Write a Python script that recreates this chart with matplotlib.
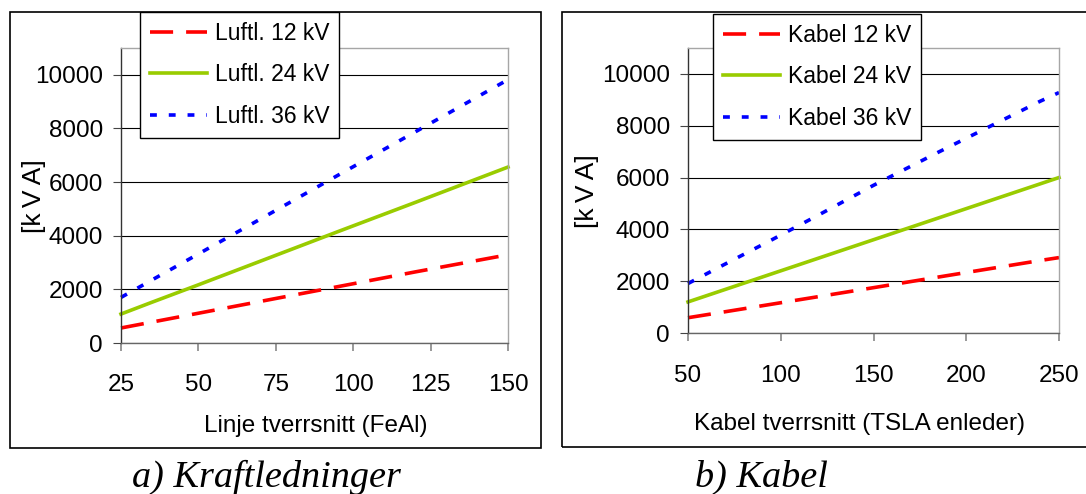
import matplotlib
matplotlib.use("Agg")
import matplotlib.pyplot as plt
from matplotlib.patches import Rectangle

plt.rcParams['font.family'] = ['Liberation Sans', 'DejaVu Sans']

W, H = 1086, 494

# a) overhead lines
line_x = [25, 35, 50, 70, 95, 120, 150]
luftl_12 = [560, 780, 1110, 1550, 2100, 2650, 3290]
luftl_24 = [1080, 1520, 2170, 3050, 4150, 5240, 6560]
luftl_36 = [1700, 2350, 3320, 4620, 6250, 7870, 9820]
line_ticks = [25, 50, 75, 100, 125, 150]

# b) cables
cable_x = [50, 70, 95, 120, 150, 185, 240, 250]
kabel_12 = [590, 820, 1110, 1400, 1750, 2160, 2800, 2910]
kabel_24 = [1200, 1680, 2280, 2880, 3600, 4440, 5760, 6000]
kabel_36 = [1910, 2660, 3590, 4540, 5700, 6980, 8950, 9280]
cable_ticks = [50, 100, 150, 200, 250]

y_ticks = [0, 2000, 4000, 6000, 8000, 10000]

RED, GREEN, BLUE = '#FF0000', '#99CC00', '#0000FF'
FS = 17.5


def px_axes(fig, x0, y0, x1, y1):
    return fig.add_axes([x0 / W, 1 - y1 / H, (x1 - x0) / W, (y1 - y0) / H])


def draw_panel(fig, box, x, series, labels, xticks, leg_xy, xpad):
    ax = px_axes(fig, *box)
    l1, = ax.plot(x, series[0], color=RED, lw=2.6, ls=(0, (6.4, 3.6)))
    l2, = ax.plot(x, series[1], color=GREEN, lw=2.6)
    l3, = ax.plot(x, series[2], color=BLUE, lw=2.6, ls=(0, (1.9, 3.3)))
    for l in (l1, l2, l3):
        l.set_clip_on(False)
    ax.set_xlim(xticks[0], xticks[-1])
    ax.set_ylim(0, 11000)
    ax.set_xticks(xticks)
    ax.set_yticks(y_ticks)
    ax.yaxis.grid(True, color='black', lw=0.8)
    ax.set_axisbelow(True)
    ax.tick_params(axis='y', direction='out', length=6, width=0.8,
                   color='#444444', pad=7, labelsize=FS)
    ax.tick_params(axis='x', direction='out', length=6, width=1.2,
                   color='#888888', pad=xpad, labelsize=FS)
    for s in ('top', 'right'):
        ax.spines[s].set_color('#a6a6a6')
        ax.spines[s].set_linewidth(1.0)
    ax.spines['left'].set_color('#333333')
    ax.spines['bottom'].set_color('#666666')
    ax.spines['left'].set_linewidth(1.0)
    ax.spines['bottom'].set_linewidth(1.0)
    leg = ax.legend([l1, l2, l3], labels, loc='upper left',
                    bbox_to_anchor=(leg_xy[0] / W, 1 - leg_xy[1] / H),
                    bbox_transform=fig.transFigure, borderaxespad=0,
                    fontsize=16.5, frameon=True, fancybox=False, framealpha=1,
                    edgecolor='black', handlelength=2.5, handletextpad=0.35,
                    labelspacing=0.82, borderpad=0.42)
    leg.get_frame().set_linewidth(1.0)
    return ax


fig = plt.figure(figsize=(W / 100, H / 100), dpi=100)

# outer frames round each chart
fig.add_artist(Rectangle((10 / W, 1 - 448 / H), 531 / W, 436 / H,
                         transform=fig.transFigure, fill=False,
                         ec='black', lw=1.2))
fig.add_artist(Rectangle((562 / W, 1 - 447 / H), 540 / W, 435 / H,
                         transform=fig.transFigure, fill=False,
                         ec='black', lw=1.2, clip_on=False))

draw_panel(fig, (121, 48, 508, 343), line_x, [luftl_12, luftl_24, luftl_36],
           ['Luftl. 12 kV', 'Luftl. 24 kV', 'Luftl. 36 kV'], line_ticks,
           (140, 12), 16)
draw_panel(fig, (688, 48, 1059, 333), cable_x, [kabel_12, kabel_24, kabel_36],
           ['Kabel 12 kV', 'Kabel 24 kV', 'Kabel 36 kV'], cable_ticks,
           (713, 14), 17)

# axis titles
fig.text(316 / W, 1 - 426 / H, 'Linje tverrsnitt (FeAl)', fontsize=17.5,
         ha='center', va='center')
fig.text(860 / W, 1 - 424 / H, 'Kabel tverrsnitt (TSLA enleder)',
         fontsize=17.5, ha='center', va='center')
ylab = '[k\u2009V\u2009A]'
fig.text(34 / W, 1 - 196 / H, ylab, fontsize=19, rotation=90,
         ha='center', va='center')
fig.text(587 / W, 1 - 191 / H, ylab, fontsize=19, rotation=90,
         ha='center', va='center')

# captions
fig.text(266 / W, 1 - 477 / H, 'a) Kraftledninger', fontsize=27.5,
         family='Liberation Serif', style='italic', ha='center', va='center')
fig.text(761 / W, 1 - 477 / H, 'b) Kabel', fontsize=27.5,
         family='Liberation Serif', style='italic', ha='center', va='center')

fig.savefig('out.png', dpi=100, facecolor='white')
